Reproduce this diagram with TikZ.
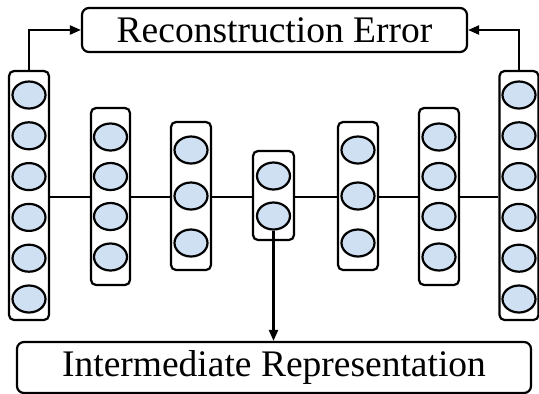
\documentclass[tikz,border=0pt]{standalone}
\usepackage{fontspec}
\setmainfont{Liberation Serif}
\usetikzlibrary{arrows.meta,shapes.geometric}
\definecolor{unitfill}{RGB}{207,224,242}
\tikzset{
  x=1pt, y=-1pt,
  layerbox/.style={draw, line width=2.2pt, rounded corners=5pt, inner sep=0pt, fill=white},
  unit/.style={draw, ellipse, line width=2.2pt, fill=unitfill, minimum width=33pt, minimum height=27pt, inner sep=0pt},
  labelbox/.style={draw, line width=2.2pt, rounded corners=7pt, inner sep=0pt, font=\fontsize{37.5}{40}\selectfont},
  link/.style={line width=2pt},
  feed/.style={line width=2.2pt, -{Triangle[length=11pt,width=9pt]}}
}
\begin{document}
\begin{tikzpicture}
\useasboundingbox (0,0) rectangle (539,394);

% layer boxes
\node[layerbox, minimum width=40pt, minimum height=249pt] (c1) at (29,195.5) {};
\node[layerbox, minimum width=39pt, minimum height=177pt] (c2) at (110.5,196.5) {};
\node[layerbox, minimum width=40pt, minimum height=148pt] (c3) at (191,196) {};
\node[layerbox, minimum width=41pt, minimum height=89pt] (c4) at (273.5,195.5) {};
\node[layerbox, minimum width=40pt, minimum height=148pt] (c5) at (358,196) {};
\node[layerbox, minimum width=40pt, minimum height=177pt] (c6) at (439,196.5) {};
\node[layerbox, minimum width=39pt, minimum height=249pt] (c7) at (519,195.5) {};

% connections between the layers
\coordinate (h) at (0,197);
\draw[link] (c1.east |- h) -- (c2.west |- h);
\draw[link] (c2.east |- h) -- (c3.west |- h);
\draw[link] (c3.east |- h) -- (c4.west |- h);
\draw[link] (c4.east |- h) -- (c5.west |- h);
\draw[link] (c5.east |- h) -- (c6.west |- h);
\draw[link] (c6.east |- h) -- (c7.west |- h);

% units
\foreach \k/\y in {1/95,2/135.8,3/176.6,4/217.4,5/258.2,6/299}{
  \node[unit] (a\k) at (29,\y) {};
  \node[unit] (g\k) at (519,\y) {};
}
\foreach \k/\y in {1/137,2/176.5,3/216.5,4/257}{
  \node[unit] (b\k) at (110.5,\y) {};
  \node[unit] (f\k) at (439,\y) {};
}
\foreach \k/\y in {1/150,2/196,3/243}{
  \node[unit] (d\k) at (191,\y) {};
  \node[unit] (e\k) at (358,\y) {};
}
\node[unit] (m1) at (273.5,176) {};
\node[unit] (m2) at (273.5,216) {};

% labels
\node[labelbox, minimum width=385pt, minimum height=44pt] (rec) at (274.5,30) {Reconstruction Error};
\node[labelbox, minimum width=514pt, minimum height=51pt] (rep) at (274,367.5) {Intermediate Representation};

% arrows
\draw[feed] (c1.north) |- (rec.west);
\draw[feed] (c7.north) |- (rec.east);
\draw[feed] (m2.south) -- (m2.south |- rep.north);
\end{tikzpicture}
\end{document}
